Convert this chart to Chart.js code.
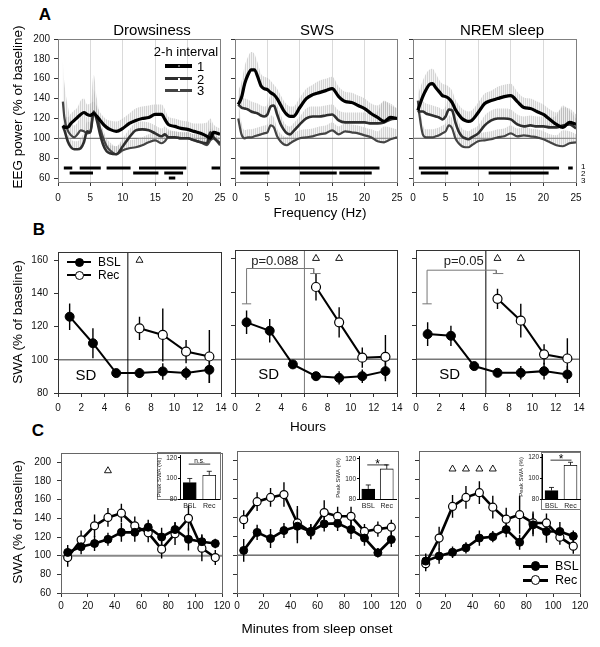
<!DOCTYPE html>
<html>
<head>
<meta charset="utf-8">
<script src="https://cdn.jsdelivr.net/npm/chart.js@4.4.0/dist/chart.umd.min.js"></script>
<style>
body { margin: 0; background: #fff; }
#fig { position: relative; width: 600px; height: 647px; overflow: hidden; font-family: 'Liberation Sans', Arial, sans-serif; color: #000; }
#fig canvas { position: absolute; }
.t { position: absolute; white-space: nowrap; line-height: 1; transform: translate(-50%, -50%); }
.rot { transform: translate(-50%, -50%) rotate(-90deg); }
.box { position: absolute; border: 1px solid #777; box-sizing: border-box; }
</style>
</head>
<body>
<div id="fig"></div>
<script>
// ---- Panel A: EEG power spectra per 2-h interval (% of baseline) ----
const aXTicks = [0, 5, 10, 15, 20, 25];
const aYTicks = [60, 80, 100, 120, 140, 160, 180, 200];
const sigLevels = [70, 65, 60];

const freqDrow = [0.75,1,1.5,2,2.5,3,3.5,4,4.5,5,5.5,6,6.5,7,7.5,8,9,10,11,12,13,14,15,16,16.5,17,18,19,20,21,22,23,23.5,24,25];
const drowInt1 = [113,111,111,115,118,121,124,126,124,123,125,122,118,114,111,109,107,110,115,118,120,121,124,124,119,114,112,110,109,107,105,102,100,106,104];
const drowInt2 = [112,108,97,91,89,89,90,96,107,106,127,118,104,93,87,85,84,92,101,108,109,108,105,102,104,101,101,100,100,98,96,95,106,101,95];
const drowInt3 = [137,120,108,103,101,104,108,107,105,107,126,122,110,100,92,88,84,88,90,91,93,96,98,95,97,101,101,100,100,98,96,93,98,100,93];
const drowSem1 = [12,12,10,10,10,10,14,14,10,12,12,10,8,8,8,9,10,10,10,12,12,12,10,10,10,8,8,8,8,8,10,14,20,8,6];
const drowSem2 = [8,8,8,8,8,8,10,10,10,10,22,12,10,8,8,8,8,8,8,8,8,8,8,8,8,8,6,6,6,6,8,8,10,6,5];
const drowSem3 = [40,35,25,15,12,12,15,18,16,22,38,18,10,8,8,8,8,8,8,8,8,8,8,8,8,6,6,6,6,6,8,10,12,6,5];
const drowSig = [[[0.9,2.2],[3.35,6.6],[7.5,11.2],[12.5,19.8],[23.7,25]], [[1.8,5.4],[11.6,15.5],[16.4,19.3]], [[17.1,18.1]]];

const freqSws = [0.5,1,1.5,2,2.5,3,3.5,4,4.5,5,5.5,6,6.5,7,7.5,8,8.5,9,10,11,12,13,14,15,16,17,18,19,20,21,22,23,24,25];
const swsInt1 = [134,141,155,164,169,169,162,153,150,149,146,144,140,134,128,124,122,122,131,140,144,146,148,150,142,137,136,133,130,125,121,117,121,120];
const swsInt2 = [134,131,130,129,127,126,125,123,122,124,132,133,124,115,109,105,104,107,114,120,122,122,123,124,118,116,116,116,116,115,115,116,119,120];
const swsInt3 = [120,104,100,101,101,102,103,104,105,106,113,111,102,97,94,93,95,97,100,101,102,104,105,108,104,107,106,105,103,101,97,96,99,101];
const swsSem1 = [14,16,18,18,18,16,14,12,12,12,12,10,10,10,10,10,10,10,10,10,10,12,12,12,10,10,10,10,10,10,12,20,14,10];
const swsSem2 = [10,10,10,10,10,10,10,10,10,10,12,12,10,10,8,8,8,8,8,10,10,10,10,10,10,10,10,10,10,10,12,22,14,10];
const swsSem3 = [20,12,8,8,8,8,8,8,8,8,10,10,8,8,8,8,8,8,8,8,8,8,8,8,8,8,8,8,8,8,10,16,12,8];
const swsSig = [[[0.8,22.3]], [[0.8,5.3],[10,15.7],[16.1,21.1]], []];

const freqNrem = [0.75,1,1.5,2,2.5,3,3.5,4,4.5,5,5.5,6,6.5,7,7.5,8,8.5,9,10,11,12,13,14,15,16,17,18,19,20,21,22,23,24,25];
const nremInt1 = [128,133,142,149,154,155,151,147,143,142,140,136,129,124,120,118,117,118,126,135,138,140,142,143,137,131,130,127,124,119,114,111,116,114];
const nremInt2 = [126,127,127,125,124,123,122,121,119,122,129,128,116,107,102,100,99,101,105,113,118,120,120,119,114,112,113,112,112,111,111,113,114,110];
const nremInt3 = [138,123,104,101,101,101,102,103,105,107,113,110,100,95,92,91,91,93,97,98,99,101,102,105,102,103,102,101,99,96,93,92,95,96];
const nremSem1 = [16,16,16,16,15,15,14,12,12,12,12,12,10,10,10,10,10,10,10,10,10,12,12,12,10,10,10,10,10,10,12,20,14,10];
const nremSem2 = [10,10,10,10,10,10,10,10,10,10,12,12,10,10,8,8,8,8,8,10,10,10,10,10,10,10,10,10,10,10,12,20,14,10];
const nremSem3 = [22,14,10,8,8,8,8,8,8,8,10,10,8,8,8,8,8,8,8,8,8,8,8,8,8,8,8,8,8,8,10,16,12,8];
const nremSig = [[[0.9,22.4],[23.8,24.5]], [[1.2,5.4],[11.6,20.8]], []];

// ---- Panel B: hourly SWA, baseline vs recovery ----
const bXTicks = [0, 2, 4, 6, 8, 10, 12, 14];
const bYTicks = [80, 100, 120, 140, 160];
const hours = [1, 3, 5, 7, 9, 11, 13];
const recHours = [7, 9, 11, 13];
const bDrowBsl = [126, 110, 92, 92, 93, 92, 94];
const bDrowBslSem = [8, 9, 2, 3, 5, 4, 8];
const bDrowRec = [119, 115, 105, 102];
const bDrowRecSem = [7, 16, 7, 16];
const bSwsBsl = [122, 117, 97, 90, 89, 90, 93];
const bSwsBslSem = [7, 7, 2, 2, 4, 4, 6];
const bSwsRec = [143, 122, 101, 101.5];
const bSwsRecSem = [8, 9, 6, 13];
const bNremBsl = [115, 114, 96, 92, 92, 93, 91];
const bNremBslSem = [7, 6, 2, 2, 4, 5, 5];
const bNremRec = [136, 123, 103, 100.5];
const bNremRecSem = [6, 10, 6, 12];
const bTri = [[7], [7, 9], [7, 9]];
const swsBracketX = [1, 6.8], swsBracketLow = [133, 151], swsBracketTop = 154;
const nremBracketX = [0.95, 6.9], nremBracketLow = [133, 151], nremBracketTop = 153;
const pLabels = ['p=0.088', 'p=0.05'];

// ---- Panel C: SWA from sleep onset ----
const cXTicks = [0, 20, 40, 60, 80, 100, 120];
const cYTicks = [60, 80, 100, 120, 140, 160, 180, 200];
const minutes = [5, 15, 25, 35, 45, 55, 65, 75, 85, 95, 105, 115];
const cDrowBsl = [103.5, 109.5, 113, 117.5, 125, 125, 130.5, 120, 128, 117.5, 115, 113];
const cDrowBslSem = [8, 8, 8, 7, 10, 10, 8, 10, 8, 12, 8, 5];
const cDrowRec = [98, 117, 132, 141, 145.5, 132, 124.5, 107, 123.5, 140, 108, 98];
const cDrowRecSem = [10, 10, 12, 10, 10, 10, 10, 10, 12, 14, 14, 8];
const cSwsBsl = [105, 124, 117.5, 126, 130.5, 125, 133, 133.5, 127, 118, 102.5, 116.5];
const cSwsBslSem = [12, 8, 10, 8, 18, 8, 8, 8, 10, 8, 5, 8];
const cSwsRec = [137.5, 156.5, 161, 164, 134, 124.5, 145, 141, 141, 125, 127.5, 129.5];
const cSwsRecSem = [10, 10, 10, 13, 18, 8, 13, 10, 10, 8, 8, 8];
const cNremBsl = [93.7, 99, 103, 107.7, 118, 119.5, 127, 113.6, 132, 125, 125, 120];
const cNremBslSem = [8, 8, 6, 6, 8, 6, 8, 8, 12, 12, 10, 6];
const cNremRec = [91, 118, 151.5, 161, 166, 150.7, 138, 142.7, 134, 134, 119, 109.5];
const cNremRecSem = [8, 12, 12, 12, 12, 12, 12, 20, 12, 10, 8, 8];
const cTri = [[35], [], [25, 35, 45, 55]];

// insets: peak SWA
const peakLabels = ['BSL', 'Rec'];
const peakTicks = [80, 100, 120];
const peakBsl = [96, 90, 88];
const peakBslSem = [4, 4, 3];
const peakRec = [103, 110, 112];
const peakRecSem = [4, 4, 3];
const peakSig = ['n.s.', '*', '*'];
const peakSigLevel = [114, 114, 117];

// ---------------------------------------------------------------
const FONT = "'Liberation Sans', Arial, sans-serif";
Chart.defaults.font.family = FONT;
Chart.defaults.font.size = 10;
Chart.defaults.color = '#000';

const fig = document.getElementById('fig');
const YW = 44, PT = 10, PR = 12, XH = 26;

const HATCH = (() => {
  const c = document.createElement('canvas');
  c.width = 2; c.height = 2;
  const g = c.getContext('2d');
  g.fillStyle = 'rgba(170,170,170,0.5)'; g.fillRect(0, 0, 1, 2);
  g.fillStyle = 'rgba(220,220,220,0.3)'; g.fillRect(1, 0, 1, 2);
  return g.createPattern(c, 'repeat');
})();

const framePlugin = {
  id: 'frame',
  afterDraw(chart, args, o) {
    if (!o.color) return;
    const { ctx, chartArea: a } = chart;
    ctx.save();
    ctx.strokeStyle = o.color;
    ctx.lineWidth = 1;
    ctx.strokeRect(Math.round(a.left) + 0.5, Math.round(a.top) + 0.5, Math.round(a.right - a.left), Math.round(a.bottom - a.top));
    ctx.restore();
  }
};

const refPlugin = {
  id: 'refLines',
  beforeDatasetsDraw(chart, args, o) {
    const { ctx, chartArea: a, scales } = chart;
    (o.lines || []).forEach(l => {
      ctx.save();
      ctx.strokeStyle = l.color;
      ctx.lineWidth = l.w;
      ctx.beginPath();
      if (l.axis === 'y') {
        const py = scales.y.getPixelForValue(l.v);
        ctx.moveTo(a.left, py); ctx.lineTo(a.right, py);
      } else {
        const px = scales.x.getPixelForValue(l.v);
        ctx.moveTo(px, a.top); ctx.lineTo(px, a.bottom);
      }
      ctx.stroke();
      ctx.restore();
    });
  }
};

const notesPlugin = {
  id: 'notes',
  afterDatasetsDraw(chart, args, o) {
    const { ctx, scales } = chart;
    (o.items || []).forEach(t => {
      ctx.save();
      ctx.font = t.size + 'px ' + FONT;
      ctx.fillStyle = t.color || '#000';
      ctx.textAlign = 'center';
      ctx.textBaseline = 'middle';
      ctx.fillText(t.text, scales.x.getPixelForValue(t.x), scales.y.getPixelForValue(t.y));
      ctx.restore();
    });
  }
};

const errPlugin = {
  id: 'errBars',
  beforeDatasetsDraw(chart) {
    const { ctx } = chart;
    chart.data.datasets.forEach((ds, i) => {
      if (!ds.sem) return;
      const meta = chart.getDatasetMeta(i);
      const ys = chart.scales[meta.yAxisID];
      ctx.save();
      ctx.strokeStyle = '#000';
      ctx.lineWidth = ds.semWidth || 1.4;
      ctx.beginPath();
      meta.data.forEach((el, j) => {
        const d = ds.data[j];
        const v = typeof d === 'object' ? d.y : d;
        const e = ds.sem[j];
        const top = ys.getPixelForValue(v + e);
        const bot = ds.semUp ? ys.getPixelForValue(v) : ys.getPixelForValue(v - e);
        ctx.moveTo(el.x, top); ctx.lineTo(el.x, bot);
        if (ds.semCap) { ctx.moveTo(el.x - ds.semCap, top); ctx.lineTo(el.x + ds.semCap, top); }
      });
      ctx.stroke();
      ctx.restore();
    });
  }
};

// significance line + mark over the inset bars, and the category names under them
const starPlugin = {
  id: 'star',
  afterDraw(chart, args, o) {
    if (!o.text) return;
    const { ctx, scales: { x, y } } = chart;
    const p0 = x.getPixelForValue(0), p1 = x.getPixelForValue(1), py = y.getPixelForValue(o.level);
    ctx.save();
    ctx.strokeStyle = '#000'; ctx.lineWidth = 0.8;
    ctx.beginPath(); ctx.moveTo(p0 - 1, py); ctx.lineTo(p1 + 1, py); ctx.stroke();
    ctx.fillStyle = '#000'; ctx.textAlign = 'center'; ctx.textBaseline = 'alphabetic';
    if (o.text === '*') { ctx.font = '12px ' + FONT; ctx.fillText('*', (p0 + p1) / 2, py + 3); }
    else { ctx.font = '6.5px ' + FONT; ctx.fillText(o.text, (p0 + p1) / 2, py - 1); }
    ctx.font = '7px ' + FONT; ctx.fillStyle = '#222'; ctx.textBaseline = 'middle';
    chart.data.labels.forEach((lab, i) => ctx.fillText(lab, x.getPixelForValue(i), y.bottom + 7));
    ctx.restore();
  }
};

Chart.register(framePlugin, refPlugin, notesPlugin, errPlugin, starPlugin);

function makeCanvas(l, t, w, h) {
  const cv = document.createElement('canvas');
  cv.width = w; cv.height = h;
  cv.style.left = l + 'px'; cv.style.top = t + 'px';
  cv.style.width = w + 'px'; cv.style.height = h + 'px';
  fig.appendChild(cv);
  return cv;
}

function panel(box, top, bottom, p) {
  const w = box.r - box.l, h = bottom - top;
  const cv = makeCanvas(box.l - YW, top - PT, w + YW + PR, h + PT + XH);
  return new Chart(cv, {
    type: 'line',
    data: { datasets: p.datasets },
    options: {
      responsive: false, animation: false, events: [],
      layout: { padding: { left: 0, right: PR, top: PT, bottom: 0 } },
      plugins: {
        legend: { display: false }, tooltip: { enabled: false },
        frame: { color: p.frame },
        refLines: { lines: p.lines },
        notes: { items: p.notes || [] }
      },
      scales: {
        x: {
          type: 'linear', min: p.xMin, max: p.xMax,
          afterBuildTicks: s => { s.ticks = p.xTicks.map(v => ({ value: v })); },
          afterFit: s => { s.height = XH; },
          border: { display: false },
          grid: { drawOnChartArea: !!p.gridX, color: p.gridX || '#333', tickColor: '#333', tickLength: 4 },
          ticks: { padding: p.xPad, maxRotation: 0, autoSkip: false, color: '#111' }
        },
        y: {
          type: 'linear', min: p.yMin, max: p.yMax,
          afterBuildTicks: s => { s.ticks = p.yTicks.map(v => ({ value: v })); },
          afterFit: s => { s.width = YW; },
          border: { display: false },
          grid: { drawOnChartArea: false, tickColor: '#333', tickLength: 4 },
          ticks: { display: p.yLabels, padding: p.yPad, color: '#111' }
        }
      }
    }
  });
}

function sigPoints(segs, level) {
  const pts = [];
  segs.forEach(s => { pts.push({ x: s[0], y: level }, { x: s[1], y: level }, { x: s[1], y: null }); });
  return pts;
}

const aStyles = [{ c: '#000', w: 3.2 }, { c: '#2e2e2e', w: 2.6 }, { c: '#444', w: 2.2 }];
function spectra(freq, curves, sems, rows) {
  const ds = curves.map((vals, k) => ({
    data: freq.map((f, i) => ({ x: f, y: vals[i] })),
    borderColor: aStyles[k].c, borderWidth: aStyles[k].w, pointRadius: 0, fill: false, order: 1,
    cubicInterpolationMode: 'monotone'
  }));
  curves.forEach((vals, k) => ds.push({
    data: freq.map((f, i) => ({ x: f, y: vals[i] + sems[k][i] })),
    borderWidth: 0, pointRadius: 0, backgroundColor: HATCH, fill: k, order: 5,
    cubicInterpolationMode: 'monotone'
  }));
  rows.forEach((segs, r) => ds.push({
    data: sigPoints(segs, sigLevels[r]), borderColor: '#000', borderWidth: 3, pointRadius: 0, fill: false, order: 0
  }));
  return ds;
}

function sleepSeries(xs, bsl, bslSem, recXs, rec, recSem, tri, triLevel, r, lw) {
  return [
    { data: xs.map((x, i) => ({ x, y: bsl[i] })), sem: bslSem, borderColor: '#000', borderWidth: lw, fill: false,
      pointRadius: r, pointBackgroundColor: '#000', pointBorderColor: '#000', pointBorderWidth: 1 },
    { data: recXs.map((x, i) => ({ x, y: rec[i] })), sem: recSem, borderColor: '#000', borderWidth: lw, fill: false,
      pointRadius: r, pointBackgroundColor: '#fff', pointBorderColor: '#000', pointBorderWidth: 1.2 },
    { data: tri.map(x => ({ x, y: triLevel })), showLine: false, pointStyle: 'triangle', pointRadius: 4,
      pointBackgroundColor: '#fff', pointBorderColor: '#000', pointBorderWidth: 0.9 }
  ];
}

function bracket(xs, lows, top) {
  return [
    { data: [{ x: xs[0], y: lows[0] }, { x: xs[0], y: top }, { x: xs[1], y: top }, { x: xs[1], y: lows[1] }],
      borderColor: '#777', borderWidth: 1, pointRadius: 0, fill: false },
    { data: [{ x: xs[0] - 0.4, y: lows[0] }, { x: xs[0] + 0.4, y: lows[0] }, { x: xs[0] + 0.4, y: null },
             { x: xs[1] - 0.3, y: lows[1] }, { x: xs[1] + 0.6, y: lows[1] }],
      borderColor: '#777', borderWidth: 1, pointRadius: 0, fill: false }
  ];
}

// ---- Panel A charts ----
const A_TOP = 39, A_BOT = 182;
const aBox = [{ l: 58, r: 220 }, { l: 235, r: 397 }, { l: 413, r: 576 }];
const aSets = [
  spectra(freqDrow, [drowInt1, drowInt2, drowInt3], [drowSem1, drowSem2, drowSem3], drowSig),
  spectra(freqSws, [swsInt1, swsInt2, swsInt3], [swsSem1, swsSem2, swsSem3], swsSig),
  spectra(freqNrem, [nremInt1, nremInt2, nremInt3], [nremSem1, nremSem2, nremSem3], nremSig)
];
aSets.forEach((ds, k) => panel(aBox[k], A_TOP, A_BOT, {
  datasets: ds, xMin: 0, xMax: 25, xTicks: aXTicks, yMin: 56, yMax: 200, yTicks: aYTicks,
  yLabels: k === 0, gridX: '#dadada', frame: '#808080', xPad: 6, yPad: 4,
  lines: [{ axis: 'y', v: 100, color: '#555', w: 1 }]
}));

// ---- Panel B charts ----
const B_TOP = 250, B_BOT = 393;
const bBox = [{ l: 58, r: 221 }, { l: 235, r: 397 }, { l: 416, r: 579 }];
const bSets = [
  sleepSeries(hours, bDrowBsl, bDrowBslSem, recHours, bDrowRec, bDrowRecSem, bTri[0], 160, 4.5, 2),
  sleepSeries(hours, bSwsBsl, bSwsBslSem, recHours, bSwsRec, bSwsRecSem, bTri[1], 160, 4.5, 2)
    .concat(bracket(swsBracketX, swsBracketLow, swsBracketTop)),
  sleepSeries(hours, bNremBsl, bNremBslSem, recHours, bNremRec, bNremRecSem, bTri[2], 160, 4.5, 2)
    .concat(bracket(nremBracketX, nremBracketLow, nremBracketTop))
];
const bNotes = [
  [{ text: 'SD', x: 2.4, y: 90.5, size: 15 }],
  [{ text: 'SD', x: 2.9, y: 90.5, size: 15 }, { text: pLabels[0], x: 3.45, y: 158, size: 13, color: '#222' }],
  [{ text: 'SD', x: 2.9, y: 90.5, size: 15 }, { text: pLabels[1], x: 4.1, y: 158, size: 13, color: '#222' }]
];
bSets.forEach((ds, k) => panel(bBox[k], B_TOP, B_BOT, {
  datasets: ds, xMin: 0, xMax: 14, xTicks: bXTicks, yMin: 80, yMax: 165, yTicks: bYTicks,
  yLabels: k === 0, frame: '#333', xPad: 5, yPad: 6, notes: bNotes[k],
  lines: [{ axis: 'y', v: 100, color: '#777', w: 1.5 }, { axis: 'x', v: 6, color: k === 1 ? '#777' : '#000', w: 1 }]
}));

// ---- Panel C charts ----
const C_TOP = 451, C_BOT = 593;
const cBox = [{ l: 61, r: 222 }, { l: 237, r: 398 }, { l: 419, r: 580 }];
const cSets = [
  sleepSeries(minutes, cDrowBsl, cDrowBslSem, minutes, cDrowRec, cDrowRecSem, cTri[0], 191, 4, 2.6),
  sleepSeries(minutes, cSwsBsl, cSwsBslSem, minutes, cSwsRec, cSwsRecSem, cTri[1], 191, 4, 2.6),
  sleepSeries(minutes, cNremBsl, cNremBslSem, minutes, cNremRec, cNremRecSem, cTri[2], 191, 4, 2.6)
];
cSets.forEach((ds, k) => panel(cBox[k], C_TOP, C_BOT, {
  datasets: ds, xMin: 0, xMax: 120, xTicks: cXTicks, yMin: 60, yMax: 210, yTicks: cYTicks,
  yLabels: k === 0, frame: '#666', xPad: 3, yPad: 6,
  lines: [{ axis: 'y', v: 100, color: k === 0 ? '#888' : '#222', w: k === 0 ? 2 : 1 }]
}));

// ---- insets ----
const insBox = [{ l: 180, t: 455, r: 219, b: 499 }, { l: 359, t: 456, r: 396, b: 499 }, { l: 542, t: 454, r: 580, b: 499 }];
const insFrame = [{ l: 157, t: 452, r: 220, b: 500 }, null, { l: 541, t: 452, r: 580, b: 510 }];
function peakInset(box, k) {
  const YI = 24, XI = 14, TI = 4, RI = 3;
  const cv = makeCanvas(box.l - YI, box.t - TI, box.r - box.l + YI + RI, box.b - box.t + TI + XI);
  return new Chart(cv, {
    type: 'bar',
    data: {
      labels: peakLabels,
      datasets: [{
        data: [peakBsl[k], peakRec[k]], sem: [peakBslSem[k], peakRecSem[k]], semUp: true, semCap: 2.5, semWidth: 0.8,
        backgroundColor: ['#000', '#fff'], borderColor: '#000', borderWidth: 0.8, barThickness: 13
      }]
    },
    options: {
      responsive: false, animation: false, events: [],
      layout: { padding: { left: 0, right: RI, top: TI, bottom: 0 } },
      plugins: { legend: { display: false }, tooltip: { enabled: false }, star: { text: peakSig[k], level: peakSigLevel[k] } },
      scales: {
        x: {
          afterFit: s => { s.height = XI; },
          grid: { display: false }, border: { color: '#000' },
          ticks: { display: false }
        },
        y: {
          min: 80, max: 122,
          afterBuildTicks: s => { s.ticks = peakTicks.map(v => ({ value: v })); },
          afterFit: s => { s.width = YI; },
          grid: { drawOnChartArea: false, tickLength: 2, tickColor: '#000' }, border: { color: '#000' },
          ticks: { font: { size: 6.5 }, padding: 1, color: '#222' },
          title: { display: true, text: 'Peak SWA (%)', font: { size: 6 }, padding: 0, color: '#222' }
        }
      }
    }
  });
}
insFrame.forEach(f => {
  if (!f) return;
  const d = document.createElement('div');
  d.className = 'box';
  d.style.left = f.l + 'px'; d.style.top = f.t + 'px';
  d.style.width = (f.r - f.l + 1) + 'px'; d.style.height = (f.b - f.t) + 'px';
  fig.appendChild(d);
});
insBox.forEach((b, k) => peakInset(b, k));

// ---- text, legends ----
function label(text, x, y, size, opts = {}) {
  const d = document.createElement('div');
  d.className = 't' + (opts.rot ? ' rot' : '');
  d.textContent = text;
  d.style.left = x + 'px'; d.style.top = y + 'px'; d.style.fontSize = size + 'px';
  if (opts.bold) d.style.fontWeight = 'bold';
  if (opts.left) d.style.transform = 'translate(0, -50%)';
  fig.appendChild(d);
}
function rect(l, t, w, h, bg, extra) {
  const d = document.createElement('div');
  d.style.position = 'absolute';
  d.style.left = l + 'px'; d.style.top = t + 'px'; d.style.width = w + 'px'; d.style.height = h + 'px';
  d.style.background = bg;
  if (extra) Object.assign(d.style, extra);
  fig.appendChild(d);
}
function legendMarker(x0, x1, y, lw, r, filled, text, tx, fs) {
  rect(x0, y - lw / 2, x1 - x0, lw, '#000');
  rect((x0 + x1) / 2 - r, y - r, 2 * r, 2 * r, filled ? '#000' : '#fff',
       { border: '1.2px solid #000', borderRadius: '50%', boxSizing: 'border-box' });
  label(text, tx, y, fs, { left: true });
}

label('A', 45, 14, 17, { bold: true });
label('B', 39, 229, 17, { bold: true });
label('C', 38, 430, 17, { bold: true });
label('Drowsiness', 152, 29, 15);
label('SWS', 317, 29, 15);
label('NREM sleep', 502, 29, 15);
label('EEG power (% of baseline)', 18, 107, 13.5, { rot: true });
label('Frequency (Hz)', 320, 213, 13.5);
label('SWA (% of baseline)', 18, 322, 13.5, { rot: true });
label('Hours', 308, 427, 13.5);
label('SWA (% of baseline)', 18, 522, 13.5, { rot: true });
label('Minutes from sleep onset', 317, 629, 13.5);

// A legend
label('2-h interval', 186, 51, 13);
const aLeg = [{ y: 66, lw: 4, c: '#000' }, { y: 78.5, lw: 3.4, c: '#2e2e2e' }, { y: 90.3, lw: 2.6, c: '#444' }];
aLeg.forEach((it, i) => {
  rect(165, it.y - it.lw / 2, 27, it.lw, it.c);
  rect(177.5, it.y - 1, 2, 2, i > 0 ? '#fff' : '#666');
  label(String(i + 1), 197, it.y, 13, { left: true });
});
label('1', 581, 167, 8, { left: true });
label('2', 581, 174, 8, { left: true });
label('3', 581, 181, 8, { left: true });

// B and C legends
legendMarker(67, 91, 262, 2.4, 4.5, true, 'BSL', 98, 12);
legendMarker(67, 91, 275, 2.4, 4.5, false, 'Rec', 98, 12);
legendMarker(523, 548, 566, 3, 4.7, true, 'BSL', 555, 12.5);
legendMarker(523, 548, 580, 3, 4.7, false, 'Rec', 555, 12.5);
</script>
</body>
</html>
